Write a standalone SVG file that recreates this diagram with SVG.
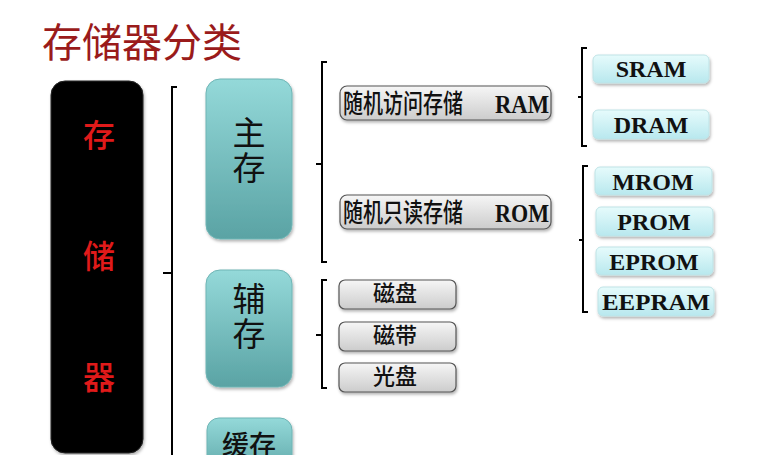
<svg xmlns="http://www.w3.org/2000/svg" width="759" height="455" viewBox="0 0 759 455">
<defs>
  <linearGradient id="gTeal" x1="0" y1="0" x2="0" y2="1">
    <stop offset="0" stop-color="#94d9d9"/>
    <stop offset="1" stop-color="#5aa3a4"/>
  </linearGradient>
  <linearGradient id="gGray" x1="0" y1="0" x2="0" y2="1">
    <stop offset="0" stop-color="#f6f6f6"/>
    <stop offset="1" stop-color="#cccccc"/>
  </linearGradient>
  <linearGradient id="gCyan" x1="0" y1="0" x2="0" y2="1">
    <stop offset="0" stop-color="#e6fbfc"/>
    <stop offset="1" stop-color="#b8e8ee"/>
  </linearGradient>
  <filter id="sh" x="-10%" y="-10%" width="130%" height="130%">
    <feDropShadow dx="1" dy="2" stdDeviation="1.5" flood-color="#000" flood-opacity="0.3"/>
  </filter>
</defs>
<style>
  .cjk { font-family: "Noto Sans CJK SC", "Noto Sans", sans-serif; }
  .teal { fill: url(#gTeal); stroke: #6fb5b5; stroke-width: 1; filter: url(#sh); }
  .gray { fill: url(#gGray); stroke: #555; stroke-width: 1.2; filter: url(#sh); }
  .cyan { fill: url(#gCyan); stroke: #bfe3e6; stroke-width: 1; filter: url(#sh); }
  .br { fill: none; stroke: #000; stroke-width: 2; }
  .vert { font-size: 33px; fill: #111; writing-mode: vertical-rl; letter-spacing: 2px; }
  .red { font-size: 32px; font-weight: 500; fill: #e01a1a; text-anchor: middle; }
  .mid { font-size: 26px; font-weight: 500; fill: #111; }
  .small { font-size: 22px; font-weight: 500; fill: #111; text-anchor: middle; }
  .en { font-family: "Liberation Serif", serif; font-weight: bold; font-size: 24px; fill: #111; text-anchor: middle; }
  .enl { font-family: "Liberation Serif", serif; font-weight: bold; font-size: 25px; fill: #111; }
</style>

<text class="cjk" x="42" y="57" font-size="40" fill="#9a1b1b">存储器分类</text>

<g id="connectors">
  <path class="br" d="M177,87 H172 V455 M172,273 H163"/>
  <path class="br" d="M327,62 H322 V262 H327 M322,164 H316"/>
  <path class="br" d="M327,280 H322 V388 H327 M322,335 H316"/>
  <path class="br" d="M587,48 H582 V146 H587 M582,97 H578"/>
  <path class="br" d="M588,166 H583 V312 H588 M583,240 H579"/>
</g>

<g id="storage">
  <rect x="51" y="81" width="92" height="372" rx="14" fill="#030303" stroke="#222" stroke-width="1" filter="url(#sh)"/>
  <text class="cjk red" x="99" y="147">存</text>
  <text class="cjk red" x="99" y="268">储</text>
  <text class="cjk red" x="99" y="389">器</text>
</g>

<g id="main">
  <rect class="teal" x="206" y="79" width="86" height="160" rx="14"/>
  <text class="cjk vert" x="249" y="116">主存</text>
</g>

<g id="aux">
  <rect class="teal" x="206" y="270" width="86" height="117" rx="14"/>
  <text class="cjk vert" x="249" y="282">辅存</text>
</g>

<g id="cache">
  <rect class="teal" x="207" y="418" width="85" height="60" rx="12"/>
  <text class="cjk" x="249" y="455" font-size="27" font-weight="500" fill="#111" text-anchor="middle">缓存</text>
</g>

<g id="ram">
  <rect class="gray" x="340" y="86" width="211" height="34" rx="7"/>
  <text class="cjk mid" x="343" y="113" textLength="120" lengthAdjust="spacingAndGlyphs">随机访问存储</text>
  <text class="enl" x="495" y="113" textLength="54" lengthAdjust="spacingAndGlyphs">RAM</text>
</g>

<g id="rom">
  <rect class="gray" x="340" y="195" width="211" height="34" rx="7"/>
  <text class="cjk mid" x="343" y="222" textLength="120" lengthAdjust="spacingAndGlyphs">随机只读存储</text>
  <text class="enl" x="495" y="222" textLength="54" lengthAdjust="spacingAndGlyphs">ROM</text>
</g>

<g id="disk">
  <rect class="gray" x="339" y="280" width="117" height="29" rx="6"/>
  <text class="cjk small" x="395" y="301">磁盘</text>
</g>
<g id="tape">
  <rect class="gray" x="339" y="322" width="117" height="29" rx="6"/>
  <text class="cjk small" x="395" y="343">磁带</text>
</g>
<g id="optical">
  <rect class="gray" x="339" y="363" width="117" height="29" rx="6"/>
  <text class="cjk small" x="395" y="384">光盘</text>
</g>

<g id="sram">
  <rect class="cyan" x="593" y="55" width="116" height="28" rx="5"/>
  <text class="en" x="651" y="77">SRAM</text>
</g>
<g id="dram">
  <rect class="cyan" x="593" y="110" width="116" height="29" rx="5"/>
  <text class="en" x="651" y="133">DRAM</text>
</g>
<g id="mrom">
  <rect class="cyan" x="595" y="167" width="117" height="28" rx="5"/>
  <text class="en" x="653" y="190">MROM</text>
</g>
<g id="prom">
  <rect class="cyan" x="596" y="207" width="117" height="29" rx="5"/>
  <text class="en" x="654" y="230">PROM</text>
</g>
<g id="eprom">
  <rect class="cyan" x="596" y="247" width="117" height="28" rx="5"/>
  <text class="en" x="654" y="270">EPROM</text>
</g>
<g id="eepram">
  <rect class="cyan" x="598" y="287" width="116" height="29" rx="5"/>
  <text class="en" x="656" y="310" textLength="108" lengthAdjust="spacingAndGlyphs">EEPRAM</text>
</g>
</svg>
